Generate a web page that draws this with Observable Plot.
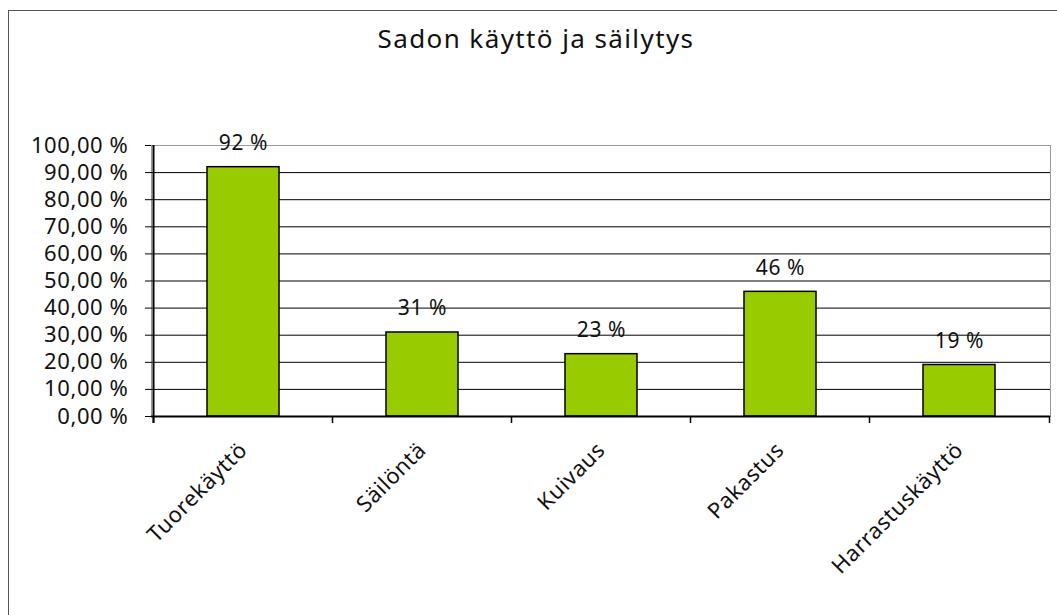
<!DOCTYPE html>
<html><head><meta charset="utf-8">
<script src="https://cdn.jsdelivr.net/npm/d3@7"></script>
<script src="https://cdn.jsdelivr.net/npm/@observablehq/plot@0.6"></script>
<style>
html,body{margin:0;background:#fff;overflow:hidden;}
#wrap{position:relative;width:1057px;height:615px;overflow:hidden;font-family:"Noto Sans",sans-serif;}
#border{position:absolute;left:8px;top:10px;width:1100px;height:700px;border:1.5px solid #555;box-sizing:border-box;}
#title{position:absolute;left:0;width:1072px;top:20px;text-align:center;font-size:26px;letter-spacing:1.4px;color:#111;white-space:nowrap;}
#chart{position:absolute;left:0;top:0;}
#chart svg text{letter-spacing:0.6px;}
</style></head><body>
<div id="wrap"><div id="border"></div><div id="chart"></div><div id="title">Sadon käyttö ja säilytys</div></div>
<script>
const categories = ["Tuorekäyttö", "Säilöntä", "Kuivaus", "Pakastus", "Harrastuskäyttö"];
const values = [92, 31, 23, 46, 19];
const valueLabels = ["92 %", "31 %", "23 %", "46 %", "19 %"];
const yTicks = [0, 10, 20, 30, 40, 50, 60, 70, 80, 90, 100];

const data = categories.map((c, i) => ({category: c, value: values[i], label: valueLabels[i]}));
const fmt = d => d.toFixed(2).replace(".", ",") + " %";

const plot = Plot.plot({
  width: 1057, height: 615,
  marginLeft: 151, marginRight: 7, marginTop: 145, marginBottom: 199,
  style: {background: "transparent", fontFamily: "Noto Sans", fontSize: "22px", color: "#111"},
  x: {domain: categories, paddingInner: 0.6, paddingOuter: 0.3, label: null},
  y: {domain: [0, 100], label: null},
  marks: [
    Plot.frame({stroke: "#999"}),
    Plot.gridY(yTicks.slice(1, -1), {stroke: "#000", strokeOpacity: 1}),
    Plot.barY(data, {x: "category", y: "value", fill: "#99cc00", stroke: "#000", strokeWidth: 1.5}),
    Plot.text(data, {x: "category", y: "value", text: "label", dy: -24, fontSize: 21, fill: "#111"}),
    Plot.axisY(yTicks, {tickSize: 6, tickPadding: 17, tickFormat: fmt, fontSize: 22, label: null, stroke: "#000"}),
    Plot.axisX({tickSize: 0, tickRotate: -45, tickPadding: 30, fontSize: 22, label: null}),
    Plot.ruleX(categories, {dx: -90, y1: 0, y2: 0, insetBottom: -7, stroke: "#000", strokeWidth: 1.5}),
    Plot.ruleX([categories[categories.length - 1]], {dx: 90, y1: 0, y2: 0, insetBottom: -7, stroke: "#000", strokeWidth: 1.5}),
    Plot.ruleY([0], {stroke: "#000", strokeWidth: 2}),
    Plot.ruleX([categories[0]], {dx: -90, y1: 100, y2: 0, insetBottom: -7, stroke: "#000", strokeWidth: 2})
  ]
});
document.getElementById("chart").appendChild(plot);
</script>
</body></html>
